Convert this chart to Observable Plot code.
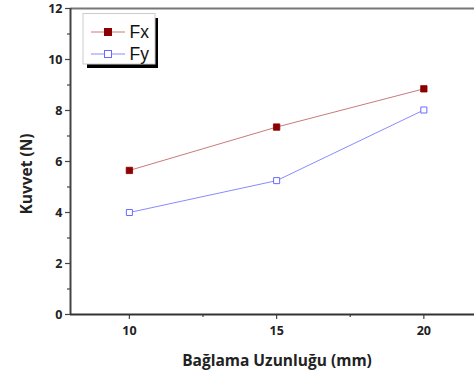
<!DOCTYPE html>
<html>
<head>
<meta charset="utf-8">
<script src="https://cdn.jsdelivr.net/npm/d3@7"></script>
<script src="https://cdn.jsdelivr.net/npm/@observablehq/plot@0.6"></script>
<style>
  html, body { margin: 0; padding: 0; background: #fff; }
  #wrap { position: relative; width: 474px; height: 376px; overflow: hidden; }
  #legend { position: absolute; left: 0; top: 0; }
</style>
</head>
<body>
<div id="wrap"></div>
<script>
const lengths = [10, 15, 20];
const fx = [5.65, 7.35, 8.85];
const fy = [4.0, 5.25, 8.02];
const seriesNames = ["Fx", "Fy"];
const xLabel = "Bağlama Uzunluğu (mm)";
const yLabel = "Kuvvet (N)";
const yMajor = [0, 2, 4, 6, 8, 10, 12];
const yMinor = [1, 3, 5, 7, 9, 11];
const xMajor = [10, 15, 20];
const xMinor = [12.5, 17.5];

const data = [
  ...lengths.map((l, i) => ({len: l, val: fx[i], s: seriesNames[0]})),
  ...lengths.map((l, i) => ({len: l, val: fy[i], s: seriesNames[1]}))
];
const dFx = data.filter(d => d.s === "Fx");
const dFy = data.filter(d => d.s === "Fy");

const font = "'Open Sans', sans-serif";

const chart = Plot.plot({
  width: 474,
  height: 376,
  marginLeft: 70,
  marginRight: 0,
  marginTop: 8,
  marginBottom: 62,
  style: {fontFamily: font, background: "#fff"},
  x: {domain: [8, 21.72]},
  y: {domain: [0, 12]},
  marks: [
    Plot.ruleY([12], {stroke: "#777", strokeWidth: 2}),
    Plot.axisY({ticks: yMajor, tickSize: 5, tickPadding: 3, tickFormat: d => d, fontWeight: "bold", fontSize: 12.5, fill: "#222", stroke: "#444", strokeWidth: 1.2, label: null}),
    Plot.axisY({ticks: yMinor, tickSize: 3, text: null, stroke: "#444", strokeWidth: 1.2, label: null}),
    Plot.axisX({ticks: xMajor, tickSize: 5, tickPadding: 7, tickFormat: d => d, fontWeight: "bold", fontSize: 12.5, fill: "#222", stroke: "#444", strokeWidth: 1.2, label: null}),
    Plot.axisX({ticks: xMinor, tickSize: 3, text: null, stroke: "#444", strokeWidth: 1.2, label: null}),
    Plot.ruleX([8], {stroke: "#444", strokeWidth: 2}),
    Plot.ruleY([0], {stroke: "#333", strokeWidth: 2}),
    Plot.line(dFx, {x: "len", y: "val", stroke: "#c97b7b", strokeWidth: 1}),
    Plot.line(dFy, {x: "len", y: "val", stroke: "#8a8aff", strokeWidth: 1}),
    Plot.dot(dFx, {x: "len", y: "val", symbol: "square", r: 3.6, fill: "#8b0000", stroke: "#8b0000", strokeWidth: 0.8}),
    Plot.dot(dFy, {x: "len", y: "val", symbol: "square", r: 3.4, fill: "#fff", stroke: "#6a6aff", strokeWidth: 1})
  ]
});
const wrap = document.getElementById("wrap");
wrap.appendChild(chart);

// overlay: axis titles and legend
const leg = d3.create("svg").attr("id", "legend").attr("width", 474).attr("height", 376);
leg.append("text").attr("x", 277).attr("y", 366).attr("text-anchor", "middle")
  .attr("font-family", font).attr("font-weight", "bold").attr("font-size", 15.5).attr("fill", "#222").text(xLabel);
leg.append("text").attr("transform", "translate(32,174) rotate(-90)").attr("text-anchor", "middle")
  .attr("font-family", font).attr("font-weight", "bold").attr("font-size", 15.5).attr("fill", "#222").text(yLabel);

leg.append("rect").attr("x", 87).attr("y", 18).attr("width", 71).attr("height", 50).attr("fill", "#000");
leg.append("rect").attr("x", 83).attr("y", 13.5).attr("width", 72).attr("height", 50.5).attr("fill", "#fff").attr("stroke", "#ccc").attr("stroke-width", 1);
const rows = [
  {name: seriesNames[0], y: 32, line: "#c97b7b", fill: "#8b0000", stroke: "#8b0000"},
  {name: seriesNames[1], y: 54, line: "#8a8aff", fill: "#fff", stroke: "#6a6aff"}
];
for (const r of rows) {
  leg.append("line").attr("x1", 91).attr("x2", 125).attr("y1", r.y).attr("y2", r.y).attr("stroke", r.line).attr("stroke-width", 1);
  leg.append("rect").attr("x", 104.5).attr("y", r.y - 3.5).attr("width", 7).attr("height", 7).attr("fill", r.fill).attr("stroke", r.stroke).attr("stroke-width", 1);
  leg.append("text").attr("x", 129.5).attr("y", r.y + 6).attr("font-family", "'Liberation Sans', Arial, sans-serif").attr("font-size", 17.5).attr("fill", "#111").text(r.name);
}
wrap.appendChild(leg.node());
</script>
</body>
</html>
